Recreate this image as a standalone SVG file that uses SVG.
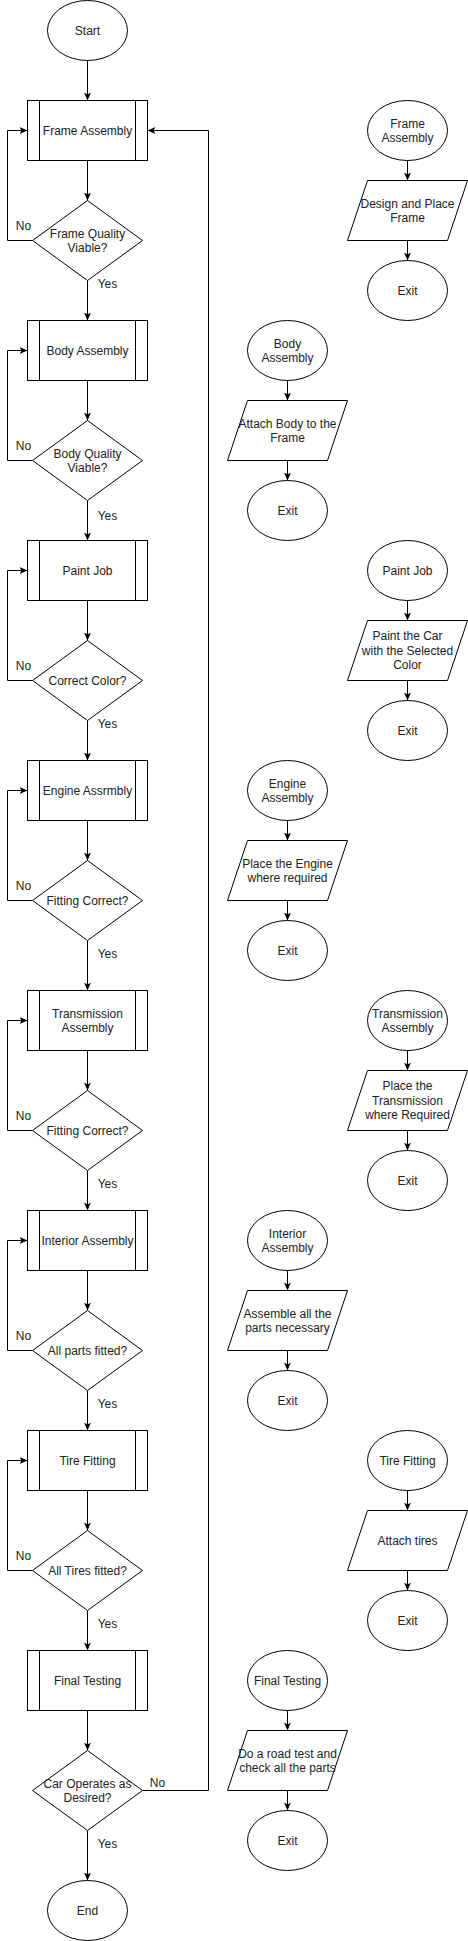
<svg xmlns="http://www.w3.org/2000/svg" width="468" height="1941" viewBox="0 0 468 1941">
<style>
.s{fill:#fff;stroke:#000;stroke-width:1}
.l{fill:none;stroke:#000;stroke-width:1}
.e{fill:none;stroke:#000;stroke-width:1;marker-end:url(#a)}
text{font-family:"Liberation Sans",Arial,Helvetica,sans-serif;font-size:12px;fill:#222;text-anchor:middle}
</style>
<defs>
<marker id="a" viewBox="0 0 8 8" refX="8" refY="4" markerWidth="8" markerHeight="8" markerUnits="userSpaceOnUse" orient="auto">
<path d="M0,0.5 L8,4 L0,7.5 L2,4 Z" fill="#000"/>
</marker>
</defs>
<rect x="0" y="0" width="468" height="1941" fill="#fff"/>
<g transform="translate(0.5,0.5)">
<g id="connectors">
<path class="e" d="M87,60 L87,100"/>
<path class="e" d="M87,160 L87,200"/>
<path class="e" d="M87,280 L87,320"/>
<path class="e" d="M87,380 L87,420"/>
<path class="e" d="M87,500 L87,540"/>
<path class="e" d="M87,600 L87,640"/>
<path class="e" d="M87,720 L87,760"/>
<path class="e" d="M87,820 L87,860"/>
<path class="e" d="M87,940 L87,990"/>
<path class="e" d="M87,1050 L87,1090"/>
<path class="e" d="M87,1170 L87,1210"/>
<path class="e" d="M87,1270 L87,1310"/>
<path class="e" d="M87,1390 L87,1430"/>
<path class="e" d="M87,1490 L87,1530"/>
<path class="e" d="M87,1610 L87,1650"/>
<path class="e" d="M87,1710 L87,1750"/>
<path class="e" d="M87,1830 L87,1880"/>
<path class="e" d="M32,240 L7,240 L7,130 L27,130"/>
<path class="e" d="M32,460 L7,460 L7,350 L27,350"/>
<path class="e" d="M32,680 L7,680 L7,570 L27,570"/>
<path class="e" d="M32,900 L7,900 L7,790 L27,790"/>
<path class="e" d="M32,1130 L7,1130 L7,1020 L27,1020"/>
<path class="e" d="M32,1350 L7,1350 L7,1240 L27,1240"/>
<path class="e" d="M32,1570 L7,1570 L7,1460 L27,1460"/>
<path class="e" d="M142,1790 L208,1790 L208,130 L147,130"/>
<path class="e" d="M407,160 L407,180"/>
<path class="e" d="M407,240 L407,260"/>
<path class="e" d="M287,380 L287,400"/>
<path class="e" d="M287,460 L287,480"/>
<path class="e" d="M407,600 L407,620"/>
<path class="e" d="M407,680 L407,700"/>
<path class="e" d="M287,820 L287,840"/>
<path class="e" d="M287,900 L287,920"/>
<path class="e" d="M407,1050 L407,1070"/>
<path class="e" d="M407,1130 L407,1150"/>
<path class="e" d="M287,1270 L287,1290"/>
<path class="e" d="M287,1350 L287,1370"/>
<path class="e" d="M407,1490 L407,1510"/>
<path class="e" d="M407,1570 L407,1590"/>
<path class="e" d="M287,1710 L287,1730"/>
<path class="e" d="M287,1790 L287,1810"/>
<text x="23" y="229.2">No</text>
<text x="23" y="449.2">No</text>
<text x="23" y="669.2">No</text>
<text x="23" y="889.2">No</text>
<text x="23" y="1119.2">No</text>
<text x="23" y="1339.2">No</text>
<text x="23" y="1559.2">No</text>
<text x="157" y="1786.9">No</text>
<text x="107" y="287.2">Yes</text>
<text x="107" y="519.2">Yes</text>
<text x="107" y="727.2">Yes</text>
<text x="107" y="957.2">Yes</text>
<text x="107" y="1187.2">Yes</text>
<text x="107" y="1407.2">Yes</text>
<text x="107" y="1627.2">Yes</text>
<text x="107" y="1847.2">Yes</text>
</g>
<g id="start"><ellipse class="s" cx="87" cy="30" rx="40" ry="30"/><text x="87" y="34.2">Start</text></g>
<g id="frame-assembly"><rect class="s" x="27" y="100" width="120" height="60"/><path class="l" d="M39,100 V160 M135,100 V160"/><text x="87" y="134.2">Frame Assembly</text></g>
<g id="frame-check"><polygon class="s" points="87,200 142,240 87,280 32,240"/><text x="87" y="237">Frame Quality</text><text x="87" y="251.4">Viable?</text></g>
<g id="body-assembly"><rect class="s" x="27" y="320" width="120" height="60"/><path class="l" d="M39,320 V380 M135,320 V380"/><text x="87" y="354.2">Body Assembly</text></g>
<g id="body-check"><polygon class="s" points="87,420 142,460 87,500 32,460"/><text x="87" y="457">Body Quality</text><text x="87" y="471.4">Viable?</text></g>
<g id="paint-job"><rect class="s" x="27" y="540" width="120" height="60"/><path class="l" d="M39,540 V600 M135,540 V600"/><text x="87" y="574.2">Paint Job</text></g>
<g id="paint-check"><polygon class="s" points="87,640 142,680 87,720 32,680"/><text x="87" y="684.2">Correct Color?</text></g>
<g id="engine-assembly"><rect class="s" x="27" y="760" width="120" height="60"/><path class="l" d="M39,760 V820 M135,760 V820"/><text x="87" y="794.2">Engine Assrmbly</text></g>
<g id="engine-check"><polygon class="s" points="87,860 142,900 87,940 32,900"/><text x="87" y="904.2">Fitting Correct?</text></g>
<g id="transmission-assembly"><rect class="s" x="27" y="990" width="120" height="60"/><path class="l" d="M39,990 V1050 M135,990 V1050"/><text x="87" y="1017">Transmission</text><text x="87" y="1031.4">Assembly</text></g>
<g id="transmission-check"><polygon class="s" points="87,1090 142,1130 87,1170 32,1130"/><text x="87" y="1134.2">Fitting Correct?</text></g>
<g id="interior-assembly"><rect class="s" x="27" y="1210" width="120" height="60"/><path class="l" d="M39,1210 V1270 M135,1210 V1270"/><text x="87" y="1244.2">Interior Assembly</text></g>
<g id="interior-check"><polygon class="s" points="87,1310 142,1350 87,1390 32,1350"/><text x="87" y="1354.2">All parts fitted?</text></g>
<g id="tire-fitting"><rect class="s" x="27" y="1430" width="120" height="60"/><path class="l" d="M39,1430 V1490 M135,1430 V1490"/><text x="87" y="1464.2">Tire Fitting</text></g>
<g id="tire-check"><polygon class="s" points="87,1530 142,1570 87,1610 32,1570"/><text x="87" y="1574.2">All Tires fitted?</text></g>
<g id="final-testing"><rect class="s" x="27" y="1650" width="120" height="60"/><path class="l" d="M39,1650 V1710 M135,1650 V1710"/><text x="87" y="1684.2">Final Testing</text></g>
<g id="final-check"><polygon class="s" points="87,1750 142,1790 87,1830 32,1790"/><text x="87" y="1787">Car Operates as</text><text x="87" y="1801.4">Desired?</text></g>
<g id="end"><ellipse class="s" cx="87" cy="1910" rx="40" ry="30"/><text x="87" y="1914.2">End</text></g>

<g id="sub-frame-start"><ellipse class="s" cx="407" cy="130" rx="40" ry="30"/><text x="407" y="127">Frame</text><text x="407" y="141.4">Assembly</text></g>
<g id="sub-frame-step"><polygon class="s" points="347,240 367,180 467,180 447,240"/><text x="407" y="207">Design and Place</text><text x="407" y="221.4">Frame</text></g>
<g id="sub-frame-exit"><ellipse class="s" cx="407" cy="290" rx="40" ry="30"/><text x="407" y="294.2">Exit</text></g>

<g id="sub-body-start"><ellipse class="s" cx="287" cy="350" rx="40" ry="30"/><text x="287" y="347">Body</text><text x="287" y="361.4">Assembly</text></g>
<g id="sub-body-step"><polygon class="s" points="227,460 247,400 347,400 327,460"/><text x="287" y="427">Attach Body to the</text><text x="287" y="441.4">Frame</text></g>
<g id="sub-body-exit"><ellipse class="s" cx="287" cy="510" rx="40" ry="30"/><text x="287" y="514.2">Exit</text></g>

<g id="sub-paint-start"><ellipse class="s" cx="407" cy="570" rx="40" ry="30"/><text x="407" y="574.2">Paint Job</text></g>
<g id="sub-paint-step"><polygon class="s" points="347,680 367,620 467,620 447,680"/><text x="407" y="639.8">Paint the Car</text><text x="407" y="654.2">with the Selected</text><text x="407" y="668.6">Color</text></g>
<g id="sub-paint-exit"><ellipse class="s" cx="407" cy="730" rx="40" ry="30"/><text x="407" y="734.2">Exit</text></g>

<g id="sub-engine-start"><ellipse class="s" cx="287" cy="790" rx="40" ry="30"/><text x="287" y="787">Engine</text><text x="287" y="801.4">Assembly</text></g>
<g id="sub-engine-step"><polygon class="s" points="227,900 247,840 347,840 327,900"/><text x="287" y="867">Place the Engine</text><text x="287" y="881.4">where required</text></g>
<g id="sub-engine-exit"><ellipse class="s" cx="287" cy="950" rx="40" ry="30"/><text x="287" y="954.2">Exit</text></g>

<g id="sub-transmission-start"><ellipse class="s" cx="407" cy="1020" rx="40" ry="30"/><text x="407" y="1017">Transmission</text><text x="407" y="1031.4">Assembly</text></g>
<g id="sub-transmission-step"><polygon class="s" points="347,1130 367,1070 467,1070 447,1130"/><text x="407" y="1089.8">Place the</text><text x="407" y="1104.2">Transmission</text><text x="407" y="1118.6">where Required</text></g>
<g id="sub-transmission-exit"><ellipse class="s" cx="407" cy="1180" rx="40" ry="30"/><text x="407" y="1184.2">Exit</text></g>

<g id="sub-interior-start"><ellipse class="s" cx="287" cy="1240" rx="40" ry="30"/><text x="287" y="1237">Interior</text><text x="287" y="1251.4">Assembly</text></g>
<g id="sub-interior-step"><polygon class="s" points="227,1350 247,1290 347,1290 327,1350"/><text x="287" y="1317">Assemble all the</text><text x="287" y="1331.4">parts necessary</text></g>
<g id="sub-interior-exit"><ellipse class="s" cx="287" cy="1400" rx="40" ry="30"/><text x="287" y="1404.2">Exit</text></g>

<g id="sub-tire-start"><ellipse class="s" cx="407" cy="1460" rx="40" ry="30"/><text x="407" y="1464.2">Tire Fitting</text></g>
<g id="sub-tire-step"><polygon class="s" points="347,1570 367,1510 467,1510 447,1570"/><text x="407" y="1544.2">Attach tires</text></g>
<g id="sub-tire-exit"><ellipse class="s" cx="407" cy="1620" rx="40" ry="30"/><text x="407" y="1624.2">Exit</text></g>

<g id="sub-final-start"><ellipse class="s" cx="287" cy="1680" rx="40" ry="30"/><text x="287" y="1684.2">Final Testing</text></g>
<g id="sub-final-step"><polygon class="s" points="227,1790 247,1730 347,1730 327,1790"/><text x="287" y="1757">Do a road test and</text><text x="287" y="1771.4">check all the parts</text></g>
<g id="sub-final-exit"><ellipse class="s" cx="287" cy="1840" rx="40" ry="30"/><text x="287" y="1844.2">Exit</text></g>
</g>
</svg>
